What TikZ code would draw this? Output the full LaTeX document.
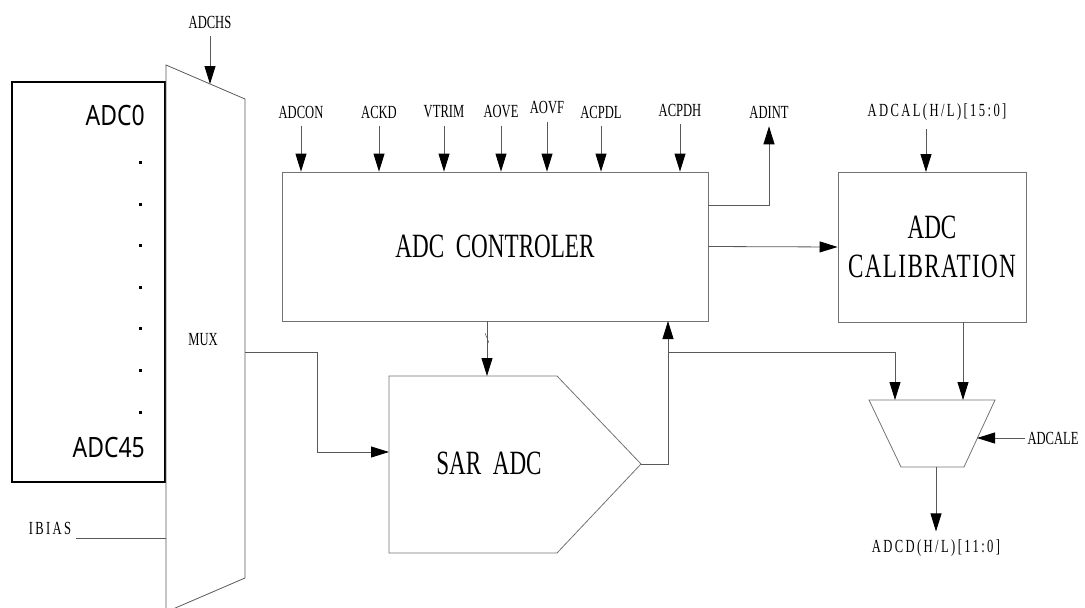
\documentclass[tikz,border=0pt]{standalone}
\usepackage{fontspec}
\usetikzlibrary{arrows.meta,positioning}
\newfontfamily\sigfont[FakeStretch=0.68]{Liberation Serif}
\newfontfamily\sigwidefont[FakeStretch=0.68,LetterSpace=13]{Liberation Serif}
\newfontfamily\pinfont[FakeStretch=0.82]{Noto Sans}

\begin{document}
\begin{tikzpicture}[x=1pt,y=-1pt,
    wire/.style={draw=black!65, line width=0.8pt},
    sig/.style={wire, -{Triangle[length=18pt,width=11pt,black]}},
    block/.style={draw=black!55, line width=0.8pt, rectangle, inner sep=0pt},
    lbl/.style={font=\sigfont\fontsize{18.5}{18.5}\selectfont, inner xsep=2pt, inner ysep=8pt},
    lblwide/.style={lbl, font=\sigwidefont\fontsize{18.5}{18.5}\selectfont},
    big/.style={font=\sigfont\fontsize{34}{39}\selectfont, align=center},
    pin/.style={font=\pinfont\fontsize{28}{28}\selectfont, anchor=east, inner sep=0pt}]
    \useasboundingbox (0,0) rectangle (1085,608);

    % input pins
    \node[draw, line width=2pt, minimum width=153pt, minimum height=400pt, anchor=north west] (pins) at (11,81) {};
    \node[pin] (adc0) at (145,115) {ADC0};
    \node[pin] (adc45) at (145,447) {ADC45};
    \foreach \i in {0,...,6}
        \fill (139,{161+41.6*\i}) rectangle ++(3,3);

    % mux
    \draw[wire] (166,612) -- (166,65) -- (245,99) -- (245,578) -- cycle;
    \node[lbl] (mux) at (203,340) {MUX};
    \coordinate (muxsel) at (210,84);
    \coordinate (muxout) at (245,352);
    \node[lbl] (adchs) at (210,22) {ADCHS};
    \draw[sig] (adchs.south) -- (muxsel);
    \node[lblwide] (ibias) at (50,528) {IBIAS};
    \coordinate (ibiasin) at (166,538);
    \draw[wire] ([xshift=3pt]ibias.east |- ibiasin) -- (ibiasin);

    % controller
    \node[block, big, minimum width=426pt, minimum height=149pt] (ctrl) at (495,246.5) {ADC\ \ CONTROLER};
    \foreach \name/\x/\y in {ADCON/301/112, ACKD/379/112, VTRIM/444/112, AOVE/501/112,
                             AOVF/547/108, ACPDL/601/112, ACPDH/680/110}
        \node[lbl] (\name) at (\x,\y) {\name};
    \foreach \name in {ADCON,ACKD,VTRIM,AOVE,AOVF,ACPDL,ACPDH}
        \draw[sig] (\name.south) -- (\name.south |- ctrl.north);
    \node[lbl] (adint) at (769,112) {ADINT};
    \coordinate (intout) at (708,205);
    \draw[sig] (intout) -| (adint.south);

    % sar adc
    \draw[block] (389,376) -- (557,376) -- (641,464) -- (557,553) -- (389,553) -- cycle;
    \node[big] (sar) at (489,463) {SAR\ \ ADC};
    \coordinate (sarin) at (389,452);
    \coordinate (sartop) at (487,376);
    \coordinate (sartip) at (641,464);
    \coordinate (fb) at (668,321);
    \coordinate (tap) at (668,352);
    \draw[sig] (muxout) -- ++(72,0) |- (sarin);
    \draw[sig] (ctrl.south -| sartop) -- (sartop);
    \draw[wire, line width=0.5pt] (485,333) -- (489,343);
    \draw[sig] (sartip) -| (fb);

    % calibration
    \node[block, big, minimum width=188pt, minimum height=150pt] (calib) at (932,247) {ADC\\\addfontfeatures{LetterSpace=4}CALIBRATION};
    \node[lblwide] (adcal) at (937,112) {ADCAL(H/L)[15:0]};
    \coordinate (calin) at (926,172);
    \draw[sig] (adcal.south -| calin) -- (calin);
    \draw[sig] (ctrl.east) -- (calib.west);

    % output select
    \draw[block] (869,400) -- (995,400) -- (964,467) -- (901,467) -- cycle;
    \coordinate (trapa) at (895,400);
    \coordinate (trapb) at (963,400);
    \coordinate (trapsel) at (977,438);
    \coordinate (trapout) at (936,467);
    \draw[sig] (tap) -| (trapa);
    \draw[sig] (calib.south -| trapb) -- (trapb);
    \node[lbl] (adcale) at (1053,438) {ADCALE};
    \draw[sig] (adcale.west) -- (trapsel);
    \node[lblwide] (adcd) at (936,548) {ADCD(H/L)[11:0]};
    \draw[sig] (trapout) -- (adcd.north);
\end{tikzpicture}
\end{document}
